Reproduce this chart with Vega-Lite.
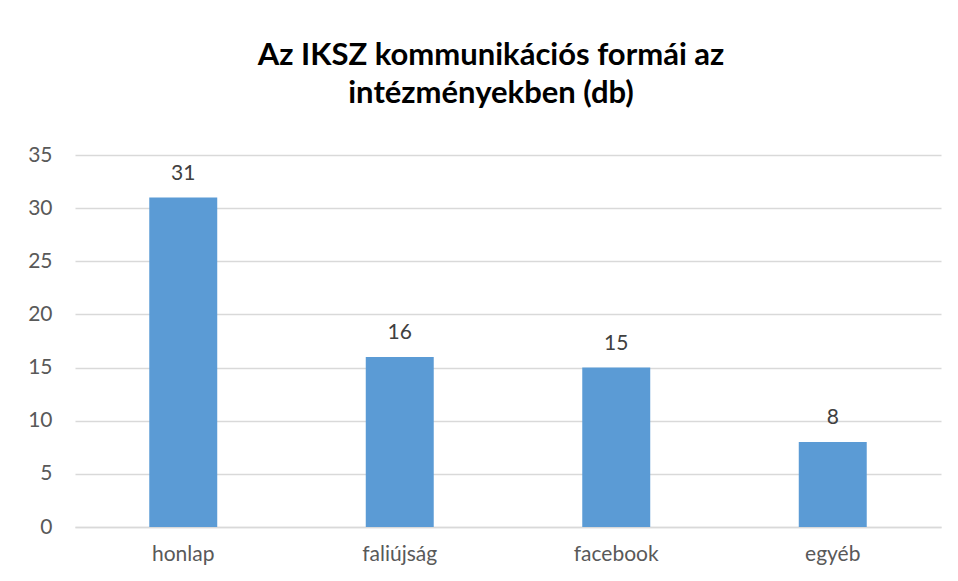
{
  "$schema": "https://vega.github.io/schema/vega-lite/v6.json",
  "autosize": "none",
  "width": 866,
  "height": 372,
  "padding": {"left": 75, "top": 155, "right": 17, "bottom": 54},
  "background": "white",
  "title": {
    "text": ["Az IKSZ kommunikációs formái az", "intézményekben (db)"],
    "font": "Lato",
    "fontSize": 31,
    "fontWeight": "bold",
    "color": "#000000",
    "lineHeight": 38,
    "anchor": "middle",
    "dx": -17,
    "offset": 34
  },
  "data": {
    "values": [
      {"forma": "honlap", "db": 31},
      {"forma": "faliújság", "db": 16},
      {"forma": "facebook", "db": 15},
      {"forma": "egyéb", "db": 8}
    ]
  },
  "encoding": {
    "x": {
      "field": "forma",
      "type": "nominal",
      "sort": null,
      "scale": {"paddingInner": 0.686, "paddingOuter": 0.343},
      "axis": {
        "title": null,
        "labelAngle": 0,
        "labelFont": "Lato",
        "labelFontSize": 21,
        "labelColor": "#595959",
        "labelPadding": 16,
        "ticks": false,
        "domain": true,
        "domainColor": "#d9d9d9",
        "domainWidth": 1.5
      }
    },
    "y": {
      "field": "db",
      "type": "quantitative",
      "scale": {"domain": [0, 35]},
      "axis": {
        "title": null,
        "values": [0, 5, 10, 15, 20, 25, 30, 35],
        "labelFont": "Lato",
        "labelFontSize": 21,
        "labelColor": "#595959",
        "labelPadding": 23,
        "ticks": false,
        "domain": false,
        "grid": true,
        "gridColor": "#d9d9d9",
        "gridWidth": 1.5
      }
    }
  },
  "layer": [
    {"mark": {"type": "bar", "color": "#5b9bd5"}},
    {
      "mark": {
        "type": "text",
        "baseline": "alphabetic",
        "dy": -18,
        "font": "Lato",
        "fontSize": 21,
        "color": "#404040"
      },
      "encoding": {"text": {"field": "db", "type": "quantitative"}}
    }
  ],
  "config": {"view": {"stroke": null}}
}
